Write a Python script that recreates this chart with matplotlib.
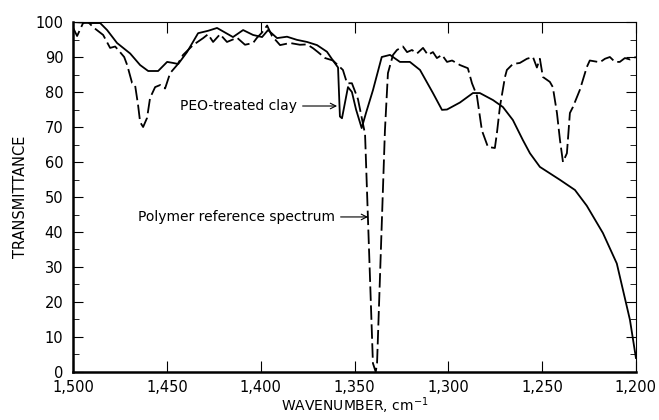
import matplotlib
matplotlib.use('Agg')
import matplotlib.pyplot as plt
from matplotlib.ticker import MultipleLocator, FixedLocator

# PEO-treated clay (solid)
wn_clay = [1500, 1491, 1485.6, 1481.9, 1476.6, 1469.6, 1464.3, 1460, 1454.7, 1449.9,
           1446.7, 1444, 1439.3, 1433.4, 1428, 1423.3, 1414.8, 1409.4, 1404.1, 1399.3,
           1396.1, 1391.3, 1386, 1380.7, 1375.3, 1370, 1364.7, 1361.5, 1358.8, 1357.8,
           1356.7, 1353.5, 1351.4, 1349.2, 1346.2, 1343.9, 1340.2, 1335.5, 1331.1, 1325.8,
           1320.5, 1315.1, 1308.2, 1303.4, 1300.7, 1293.8, 1286.9, 1283.2, 1276.2, 1270.9,
           1265.6, 1260.3, 1256.5, 1251.2, 1240.5, 1232.5, 1226.2, 1217.6, 1210.2, 1203.2,
           1200]
tr_clay = [100, 99.7, 99.7, 97.7, 94, 91, 87.7, 86, 86, 88.6,
           88.3, 88, 91.4, 96.8, 97.5, 98.3, 95.7, 97.7, 96.3, 95.7,
           97.7, 95.4, 95.8, 94.9, 94.3, 93.4, 91.5, 89, 87, 73,
           72.5, 81.4, 80, 75, 69.7, 74, 80.5, 90, 90.6, 88.6,
           88.6, 86.3, 79.7, 74.9, 75, 77, 79.7, 79.7, 77.7, 75.7,
           72, 66.3, 62.5, 58.6, 54.9, 52, 47.5, 39.7, 31, 14.9,
           4]

# polymer reference spectrum (dashed)
wn_ref = [1500, 1497.9, 1494.7, 1492, 1489.3, 1484, 1480.3, 1477.6, 1475, 1472.8,
          1471.2, 1468.6, 1467, 1465.4, 1464.3, 1462.7, 1460.6, 1459, 1456.3, 1453.6,
          1451, 1448.3, 1444.6, 1441.4, 1436.1, 1430.7, 1428.1, 1425.4, 1421.7, 1418,
          1412.6, 1408.4, 1404.1, 1402, 1399.3, 1396.6, 1394, 1389.7, 1384.4, 1379.1,
          1375.3, 1372.1, 1369.5, 1365.7, 1361.5, 1356.2, 1354, 1351.4, 1348.2, 1344.4,
          1340.2, 1338.7, 1338, 1333.8, 1332.2, 1329.5, 1327.4, 1324.2, 1322, 1319.4,
          1316.7, 1313.5, 1310.9, 1308.2, 1306.1, 1303.4, 1300.7, 1298, 1295.4, 1293.8,
          1289.6, 1287.4, 1284.8, 1282.1, 1278.9, 1275.2, 1274.1, 1272.5, 1269.8, 1268.8,
          1265.6, 1261.9, 1258.1, 1254.9, 1252.8, 1251.2, 1249.6, 1245.9, 1244.3, 1242.1,
          1240.5, 1238.9, 1236.8, 1235.2, 1233.6, 1229.9, 1226.2, 1224.6, 1219.2, 1216.5,
          1213.9, 1211.2, 1208.6, 1205.9, 1203.2, 1200]
tr_ref = [98.3, 96, 99.7, 100, 98.5, 96.3, 92.6, 93, 91.4, 90,
          87.7, 82.6, 82, 76.3, 71.4, 70, 72.6, 78.3, 81.4, 82,
          81, 85.4, 87.7, 90.6, 93.4, 95.4, 96.5, 94.3, 96.5, 94.3,
          95.5, 93.5, 94, 95.5, 97, 99, 96, 93.4, 94, 93.5,
          93.6, 92.5, 91.4, 89.7, 89, 86.3, 82.5, 82.5, 78, 68,
          2.5, 0, 2.5, 69, 85.4, 90.6, 92, 93, 91.4, 92,
          91, 92.6, 90.6, 91.4, 89.7, 90.6, 88.6, 89, 88.2, 87.7,
          86.8, 82.5, 79, 69, 64.3, 64, 68.3, 75.8, 84.3, 86.3,
          88, 88.3, 89.5, 90, 87, 89.5, 84.3, 82.9, 81.4, 74,
          66.3, 60, 62.5, 74, 75.7, 80.6, 87.1, 89, 88.5, 89.5,
          90, 88.6, 88.6, 89.7, 89.3, 90]

xticks = [1500, 1450, 1400, 1350, 1300, 1250, 1200]
xticklabels = ['1,500', '1,450', '1,400', '1,350', '1,300', '1,250', '1,200']

plt.rcParams['font.family'] = ['DejaVu Sans']
fig = plt.figure(figsize=(6.59, 4.2), dpi=100)
ax = fig.add_axes([0.111, 0.1143, 0.854, 0.8333])

ax.plot(wn_clay, tr_clay, color='k', lw=1.3)
ax.plot(wn_ref, tr_ref, color='k', lw=1.3, dashes=(8, 2.5))

ax.set_xlim(1500, 1200)
ax.set_ylim(0, 100)
ax.xaxis.set_major_locator(FixedLocator(xticks))
ax.set_xticklabels(xticklabels)
ax.yaxis.set_major_locator(MultipleLocator(10))
ax.yaxis.set_minor_locator(MultipleLocator(5))
ax.tick_params(axis='both', which='both', direction='in', labelsize=10.5, colors='k')
ax.tick_params(axis='x', which='major', length=8, top=True, pad=6)
ax.tick_params(axis='y', which='major', length=7, right=True, pad=7)
ax.tick_params(axis='y', which='minor', length=4, right=True)
for s in ('left', 'bottom'):
    ax.spines[s].set_linewidth(1.8)
for s in ('top', 'right'):
    ax.spines[s].set_linewidth(0.8)

ax.set_xlabel('WAVENUMBER, cm$^{-1}$', fontsize=10, labelpad=0)
ax.set_ylabel('TRANSMITTANCE', fontsize=10.5, labelpad=5)

ax.annotate('PEO-treated clay', xy=(1359.3, 76), xytext=(1443, 76),
            va='center', ha='left', fontsize=10,
            arrowprops=dict(arrowstyle='->', lw=0.8, color='k', shrinkA=2, shrinkB=0))
ax.annotate('Polymer reference spectrum', xy=(1342.8, 44.3), xytext=(1465.4, 44.3),
            va='center', ha='left', fontsize=10,
            arrowprops=dict(arrowstyle='->', lw=0.8, color='k', shrinkA=2, shrinkB=0))

fig.savefig('out.png', dpi=100)
